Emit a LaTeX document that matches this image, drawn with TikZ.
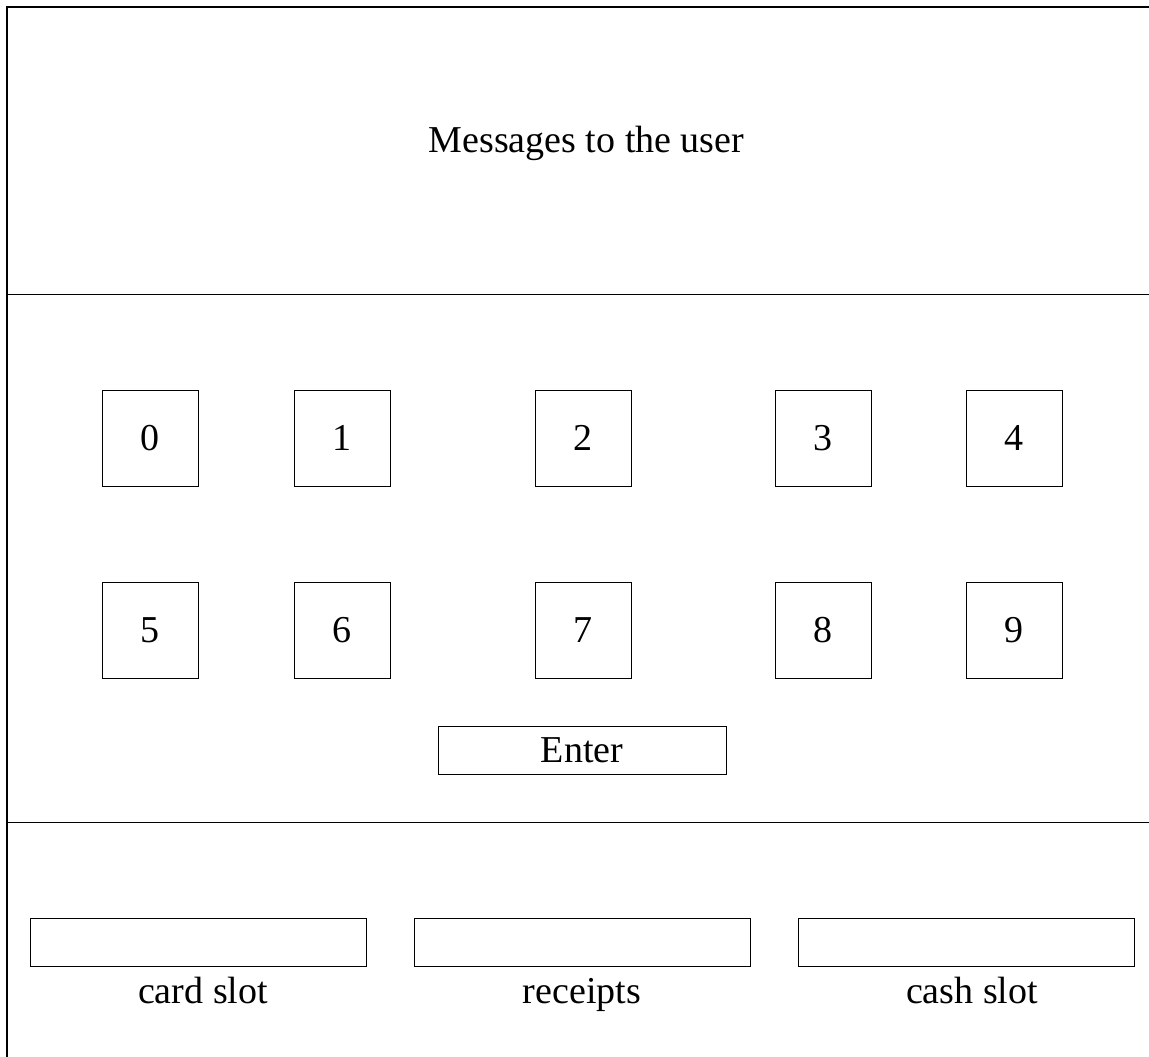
\documentclass[tikz,border=0pt]{standalone}
\usepackage{fontspec}
\setmainfont{Liberation Serif}
\begin{document}
\begin{tikzpicture}[x=1pt,y=-1pt,
  key/.style={draw,line width=1pt,minimum width=96pt,minimum height=96pt,inner sep=0pt,font=\fontsize{38}{44}\selectfont},
  slotbox/.style={draw,line width=1pt,minimum width=336pt,minimum height=48pt,inner sep=0pt},
  lbl/.style={font=\fontsize{38}{44}\selectfont,inner sep=0pt,anchor=base}]
\useasboundingbox (0,0) rectangle (1149,1057);
\coordinate (tl) at (7,7);
\coordinate (tr) at (1160,7);
\coordinate (bl) at (7,1070);
\coordinate (m1l) at (7,294);
\coordinate (m1r) at (1160,294);
\coordinate (m2l) at (7,822);
\coordinate (m2r) at (1160,822);
\draw[line width=1.5pt] (bl) -- (tl) -- (tr);
\draw[line width=1pt] (m1l) -- (m1r);
\draw[line width=1pt] (m2l) -- (m2r);
\node[lbl] (msg) at (586.5,152) {Messages to the user};
\node[key] (k0) at (150,438) {0};
\node[key] (k1) at (342,438) {1};
\node[key] (k2) at (583,438) {2};
\node[key] (k3) at (823,438) {3};
\node[key] (k4) at (1014,438) {4};
\node[key] (k5) at (150,630) {5};
\node[key] (k6) at (342,630) {6};
\node[key] (k7) at (583,630) {7};
\node[key] (k8) at (823,630) {8};
\node[key] (k9) at (1014,630) {9};
\node[draw,line width=1pt,minimum width=288pt,minimum height=48pt,inner sep=0pt,font=\fontsize{38}{44}\selectfont] (enter) at (582,750) {Enter};
\node[slotbox] (card) at (198.5,942) {};
\node[slotbox] (rec) at (582,942) {};
\node[slotbox] (cash) at (966,942) {};
\node[lbl] (cardl) at (203,1003) {card slot};
\node[lbl] (recl) at (582,1003) {receipts};
\node[lbl] (cashl) at (972,1003) {cash slot};
\end{tikzpicture}
\end{document}
